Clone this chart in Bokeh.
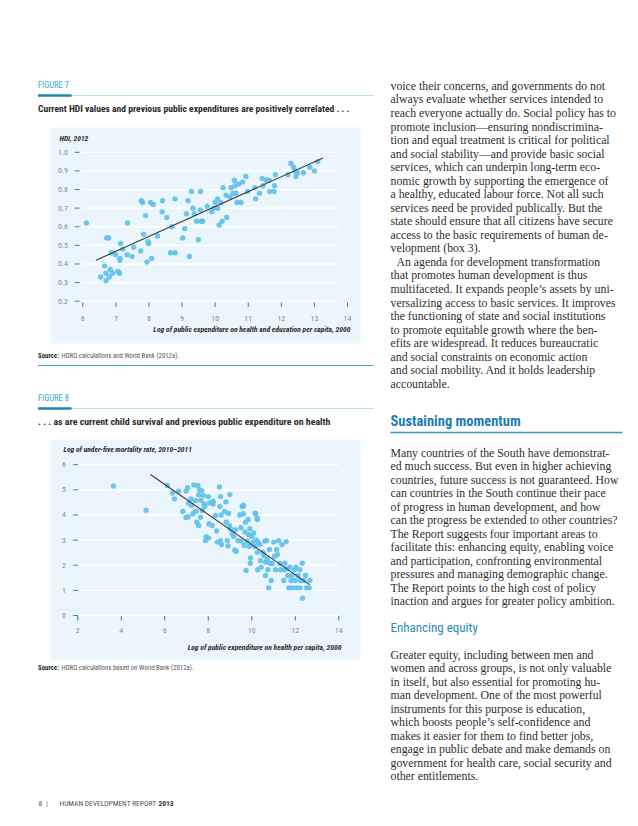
from bokeh.plotting import figure
from bokeh.models import Range1d
from bokeh.embed import file_html
from bokeh.resources import INLINE
from bokeh.core.properties import value

# ---------------- data ----------------
fig7_x = [6.11, 6.54, 6.66, 6.70, 6.70, 6.72, 6.78, 6.80, 6.83, 6.86, 6.90, 6.99, 7.06, 7.11, 7.12, 7.12,
          7.14, 7.21, 7.34, 7.35, 7.49, 7.54, 7.75, 7.77, 7.81, 7.84, 7.90, 7.94, 7.97, 7.99, 8.05, 8.08,
          8.13, 8.26, 8.40, 8.41, 8.54, 8.65, 8.69, 8.79, 8.79, 9.02, 9.08, 9.13, 9.18, 9.22, 9.28, 9.33,
          9.37, 9.44, 9.49, 9.55, 9.56, 9.58, 9.62, 9.76, 9.90, 9.95, 10.00, 10.07, 10.08, 10.12, 10.17,
          10.21, 10.24, 10.33, 10.35, 10.45, 10.48, 10.54, 10.58, 10.60, 10.63, 10.66, 10.71, 10.78, 10.83,
          10.93, 10.98, 11.20, 11.22, 11.34, 11.42, 11.45, 11.54, 11.63, 11.65, 11.78, 11.79, 11.82, 12.20,
          12.29, 12.37, 12.42, 12.44, 12.49, 12.67, 12.86, 13.00, 13.10]
fig7_y = [0.62, 0.33, 0.39, 0.35, 0.31, 0.54, 0.54, 0.33, 0.37, 0.46, 0.35, 0.45, 0.36, 0.35, 0.43, 0.42,
          0.51, 0.48, 0.45, 0.62, 0.44, 0.49, 0.47, 0.74, 0.73, 0.56, 0.66, 0.41, 0.52, 0.51, 0.73, 0.43,
          0.72, 0.55, 0.68, 0.74, 0.65, 0.46, 0.60, 0.75, 0.46, 0.54, 0.59, 0.67, 0.74, 0.44, 0.79, 0.70,
          0.67, 0.63, 0.53, 0.69, 0.79, 0.63, 0.63, 0.71, 0.68, 0.70, 0.73, 0.75, 0.70, 0.61, 0.73,
          0.63, 0.81, 0.77, 0.65, 0.76, 0.81, 0.78, 0.85, 0.82, 0.78, 0.73, 0.83, 0.73, 0.84,
          0.87, 0.79, 0.81, 0.75, 0.78, 0.86, 0.82, 0.85, 0.85, 0.79, 0.79, 0.82, 0.88, 0.88,
          0.94, 0.92, 0.90, 0.87, 0.89, 0.89, 0.92, 0.90, 0.95]
fig7_fit_x = [6.40, 13.26]
fig7_fit_y = [0.42, 0.97]
fig7_xticks = [6, 7, 8, 9, 10, 11, 12, 13, 14]
fig7_xlabels = ["6", "7", "8", "9", "10", "11", "12", "13", "14"]
fig7_yticks = [0.2, 0.3, 0.4, 0.5, 0.6, 0.7, 0.8, 0.9, 1.0]
fig7_ylabels = ["0.2", "0.3", "0.4", "0.5", "0.6", "0.7", "0.8", "0.9", "1.0"]

fig8_x = [3.64, 5.14, 6.11, 6.35, 6.44, 6.64, 6.83, 6.98, 7.05, 6.97, 7.07, 7.10, 7.20, 7.24, 7.29, 7.34,
          7.41, 7.44, 7.53, 7.56, 7.47, 7.56, 7.64, 7.60, 7.66, 7.70, 7.72, 7.77, 7.80, 7.84, 7.90, 7.87,
          8.00, 8.02, 8.05, 8.03, 8.18, 8.22, 8.22, 8.33, 8.38, 8.42, 8.51, 8.53, 8.56, 8.59, 8.56, 8.61,
          8.75, 8.81, 8.82, 8.87, 8.93, 8.97, 8.99, 8.91, 9.02, 9.10, 9.17, 9.22, 9.25, 9.28, 9.37, 9.45,
          9.50, 9.52, 9.56, 9.61, 9.61, 9.68, 9.65, 9.71, 9.74, 9.79, 9.83, 9.85, 9.88, 9.91, 9.93, 9.94,
          9.99, 10.05, 10.09, 10.16, 10.14, 10.21, 10.25, 10.29, 10.25, 10.37, 10.27, 10.40, 10.43, 10.51,
          10.56, 10.60, 10.63, 10.63, 10.68, 10.71, 10.74, 10.78, 10.81, 10.83, 10.89, 10.94, 11.01, 11.05,
          11.09, 11.14, 11.18, 11.23, 11.29, 11.33, 11.39, 11.50, 11.52, 11.58, 11.47, 11.62, 11.65, 11.70,
          11.75, 11.81, 11.84, 11.86, 11.96, 12.00, 12.03, 12.05, 12.12, 12.21, 12.21, 12.24, 12.32, 12.33,
          12.39, 12.47, 12.51, 12.64, 12.67, 9.59, 10.17, 10.25]
fig8_y = [5.15, 4.19, 5.17, 4.87, 4.64, 4.95, 4.14, 4.95, 5.08, 3.90, 3.93, 4.47, 4.64, 4.38, 4.05, 5.19,
          4.58, 4.15, 5.16, 4.80, 3.71, 3.58, 3.91, 5.00, 4.58, 4.97, 4.18, 4.77, 4.44, 4.34, 3.14, 2.98,
          4.73, 3.08, 4.48, 3.65, 3.58, 4.55, 4.44, 3.98, 3.36, 2.92, 5.11, 4.34, 4.73, 4.00, 2.98, 2.82,
          4.14, 4.52, 3.71, 2.98, 4.07, 3.58, 4.81, 2.77, 3.45, 3.25, 3.14, 2.61, 3.41, 2.55, 2.98, 4.00,
          3.49, 2.96, 4.34, 4.39, 4.05, 3.32, 2.79, 3.71, 1.79, 2.96, 3.82, 3.22, 2.75, 3.45, 2.08, 2.29,
          3.14, 2.92, 3.28, 4.07, 2.75, 3.01, 3.82, 2.92, 2.52, 2.82, 1.82, 2.18, 1.92, 2.52,
          2.39, 2.96, 2.12, 1.59, 2.98, 2.25, 1.82, 1.10, 2.63, 2.08, 1.39, 2.07, 2.92, 2.36,
          1.82, 2.63, 2.43, 2.98, 2.07, 1.82, 2.82, 1.82, 2.08, 2.94, 1.39, 1.86, 1.59, 1.10,
          1.92, 1.39, 1.59, 1.10, 1.82, 1.39, 1.92, 1.10, 1.59, 1.10, 1.82, 1.39, 2.08, 0.69,
          1.39, 1.59, 1.10, 1.10, 1.39, 4.35, 4.05, 3.87]
fig8_fit_x = [5.34, 12.67]
fig8_fit_y = [5.61, 1.22]
fig8_xticks = [2, 4, 6, 8, 10, 12, 14]
fig8_xlabels = ["2", "4", "6", "8", "10", "12", "14"]
fig8_yticks = [0, 1, 2, 3, 4, 5, 6]
fig8_ylabels = ["0", "1", "2", "3", "4", "5", "6"]

fig7_label = "FIGURE 7"
fig7_title = "Current HDI values and previous public expenditures are positively correlated . . ."
fig7_ytitle = "HDI, 2012"
fig7_xtitle = "Log of public expenditure on health and education per capita, 2000"
fig7_source = "HDRO calculations and World Bank (2012a)."
fig8_label = "FIGURE 8"
fig8_title = ". . . as are current child survival and previous public expenditure on health"
fig8_ytitle = "Log of under-five mortality rate, 2010\u20132011"
fig8_xtitle = "Log of public expenditure on health per capita, 2000"
fig8_source = "HDRO calculations based on World Bank (2012a)."

para1 = [
    "voice their concerns, and governments do not",
    "always evaluate whether services intended to",
    "reach everyone actually do. Social policy has to",
    "promote inclusion\u2014ensuring nondiscrimina-",
    "tion and equal treatment is critical for political",
    "and social stability\u2014and provide basic social",
    "services, which can underpin long-term eco-",
    "nomic growth by supporting the emergence of",
    "a healthy, educated labour force. Not all such",
    "services need be provided publically. But the",
    "state should ensure that all citizens have secure",
    "access to the basic requirements of human de-",
    "velopment (box 3).",
    "\u2002An agenda for development transformation",
    "that promotes human development is thus",
    "multifaceted. It expands people\u2019s assets by uni-",
    "versalizing access to basic services. It improves",
    "the functioning of state and social institutions",
    "to promote equitable growth where the ben-",
    "efits are widespread. It reduces bureaucratic",
    "and social constraints on economic action",
    "and social mobility. And it holds leadership",
    "accountable.",
]
heading1 = "Sustaining momentum"
para2 = [
    "Many countries of the South have demonstrat-",
    "ed much success. But even in higher achieving",
    "countries, future success is not guaranteed. How",
    "can countries in the South continue their pace",
    "of progress in human development, and how",
    "can the progress be extended to other countries?",
    "The Report suggests four important areas to",
    "facilitate this: enhancing equity, enabling voice",
    "and participation, confronting environmental",
    "pressures and managing demographic change.",
    "The Report points to the high cost of policy",
    "inaction and argues for greater policy ambition.",
]
heading2 = "Enhancing equity"
para3 = [
    "Greater equity, including between men and",
    "women and across groups, is not only valuable",
    "in itself, but also essential for promoting hu-",
    "man development. One of the most powerful",
    "instruments for this purpose is education,",
    "which boosts people\u2019s self-confidence and",
    "makes it easier for them to find better jobs,",
    "engage in public debate and make demands on",
    "government for health care, social security and",
    "other entitlements.",
]
footer_num = "8"
footer_text = "HUMAN DEVELOPMENT REPORT"
footer_year = "2013"

# ---------------- styles ----------------
NARROW = "'Liberation Sans Narrow', 'Roboto Condensed', 'DejaVu Sans Condensed', Roboto, sans-serif"
SERIF = "'Liberation Serif', 'DejaVu Serif', serif"
TEAL = "#1f85b8"
LIGHT_TEAL = "#3aa6d2"
PANEL = "#eaf6fc"
DOT = "#5fc0ea"
GREY = "#8a8a8a"
DARK = "#2b2b2b"
BODY = "#2e2e2e"

W, H = 630, 818
p = figure(width=W, height=H, output_backend="svg", toolbar_location=None,
           x_axis_location=None, y_axis_location=None, min_border=0,
           x_range=Range1d(0, W), y_range=Range1d(H, 0))
p.grid.visible = False
p.outline_line_color = None
p.background_fill_color = "white"
p.border_fill_color = "white"


def lin_range(v0, p0, v1, p1, pstart, pend):
    s = (v1 - v0) / (p1 - p0)
    return Range1d(v0 + (pstart - p0) * s, v0 + (pend - p0) * s)


p.extra_x_ranges = {
    "x7": lin_range(6, 82.3, 14, 347.0, 0, W),
    "x8": lin_range(2, 77.3, 14, 338.3, 0, W),
}
p.extra_y_ranges = {
    "y7": lin_range(0.2, 300.7, 1.0, 151.8, H, 0),
    "y8": lin_range(0, 615.0, 6, 464.2, H, 0),
}


def txt(x, y, t, size, color=DARK, font=NARROW, style="normal", align="left", baseline="middle", **kw):
    p.text(x=x, y=y, text=t, text_font=value(font), text_font_size=size, text_color=color,
           text_font_style=style, text_align=align, text_baseline=baseline, **kw)


# ---------- chart section helper ----------
def chart(tag, label, title, ytitle, xtitle, source, xs, ys, fx, fy, xticks, xlabels, yticks, ylabels,
          top, title_size, panel_top, panel_bot, grid_l, grid_r, dash_l, dash_r, ylab_x, xtick_y, xlab_y,
          xtitle_x, xtitle_y, ytitle_x, ytitle_y, source_y):
    xr, yr = "x" + tag, "y" + tag
    # header
    txt([37.5], [top], [label], "8.5px", color=LIGHT_TEAL)
    p.segment(x0=[37.5], x1=[373], y0=[top + 10.5], y1=[top + 10.5], line_color="#b5def0", line_width=1)
    p.segment(x0=[37.5], x1=[71], y0=[top + 10.5], y1=[top + 10.5], line_color=TEAL, line_width=2.5)
    txt([37.5], [top + 23.5], [title], title_size, color=DARK, style="bold")
    # panel
    p.quad(left=[50], right=[360], top=[panel_top], bottom=[panel_bot], fill_color=PANEL, line_color=None)
    # grid lines
    p.segment(x0=[grid_l] * len(yticks), x1=[grid_r] * len(yticks), y0=yticks, y1=yticks,
              line_color="white", line_width=1.3, y_range_name=yr)
    # y tick dashes
    p.segment(x0=[dash_l] * len(yticks), x1=[dash_r] * len(yticks), y0=yticks, y1=yticks,
              line_color="#2d84ad", line_width=1, y_range_name=yr)
    # x tick marks
    p.segment(x0=xticks, x1=xticks, y0=[xtick_y] * len(xticks), y1=[xtick_y + 4.5] * len(xticks),
              line_color="#2d84ad", line_width=1, x_range_name=xr)
    # tick labels
    txt([ylab_x] * len(yticks), yticks, ylabels, "8px", color=GREY, align="right", y_range_name=yr)
    txt(xticks, [xlab_y] * len(xticks), xlabels, "8px", color=GREY, align="center", x_range_name=xr)
    # axis titles
    txt([ytitle_x], [ytitle_y], [ytitle], "7.5px", color=DARK, style="bold italic")
    txt([xtitle_x], [xtitle_y], [xtitle], "7.6px", color=DARK, style="bold italic", align="right")
    # data
    p.scatter(x=xs, y=ys, size=5.4, fill_color=DOT, fill_alpha=0.9, line_color=None,
              x_range_name=xr, y_range_name=yr)
    p.line(x=fx, y=fy, line_color="#3a3a3a", line_width=1.1, x_range_name=xr, y_range_name=yr)
    # source
    txt([37.5], [source_y], ["Source:"], "6.8px", color=DARK, style="bold")
    txt([61], [source_y], [source], "6.8px", color="#555555")


chart("7", fig7_label, fig7_title, fig7_ytitle, fig7_xtitle, fig7_source, fig7_x, fig7_y, fig7_fit_x,
      fig7_fit_y, fig7_xticks, fig7_xlabels, fig7_yticks, fig7_ylabels,
      top=84.5, title_size="9.6px", panel_top=127, panel_bot=343, grid_l=82, grid_r=338, dash_l=74.3,
      dash_r=79, ylab_x=67.5, xtick_y=302, xlab_y=318, xtitle_x=350, xtitle_y=329, ytitle_x=59,
      ytitle_y=137.7, source_y=355)
p.segment(x0=[37.5], x1=[373], y0=[365], y1=[365], line_color=LIGHT_TEAL, line_width=1)
chart("8", fig8_label, fig8_title, fig8_ytitle, fig8_xtitle, fig8_source, fig8_x, fig8_y, fig8_fit_x,
      fig8_fit_y, fig8_xticks, fig8_xlabels, fig8_yticks, fig8_ylabels,
      top=397.5, title_size="9.9px", panel_top=439, panel_bot=659, grid_l=80, grid_r=338, dash_l=72.7,
      dash_r=77.3, ylab_x=65.5, xtick_y=615.5, xlab_y=630, xtitle_x=341, xtitle_y=646.7, ytitle_x=63,
      ytitle_y=449.3, source_y=667)

# ---------- right column text ----------
BODY_SIZE = "11.8px"
txt([390] * len(para1), [85.4 + 13.54 * i for i in range(len(para1))], para1, BODY_SIZE, color=BODY, font=SERIF)
txt([390], [421], [heading1], "14.5px", color="#1b7cb2", style="bold")
p.segment(x0=[390], x1=[622], y0=[432], y1=[432], line_color="#3a95c4", line_width=1.3)
txt([390] * len(para2), [452 + 13.52 * i for i in range(len(para2))], para2, BODY_SIZE, color=BODY, font=SERIF)
txt([390], [627], [heading2], "13px", color="#2a8bbd")
txt([390] * len(para3), [654 + 13.55 * i for i in range(len(para3))], para3, BODY_SIZE, color=BODY, font=SERIF)

# ---------- footer ----------
txt([38], [803.3], [footer_num], "7.5px", color="#555555")
txt([45.5], [803.3], ["|"], "7.5px", color="#777777")
txt([59], [803.3], [footer_text], "7.5px", color="#555555")
txt([158], [803.3], [footer_year], "7.5px", color="#333333", style="bold")

open("out.html", "w").write(file_html(p, INLINE))
